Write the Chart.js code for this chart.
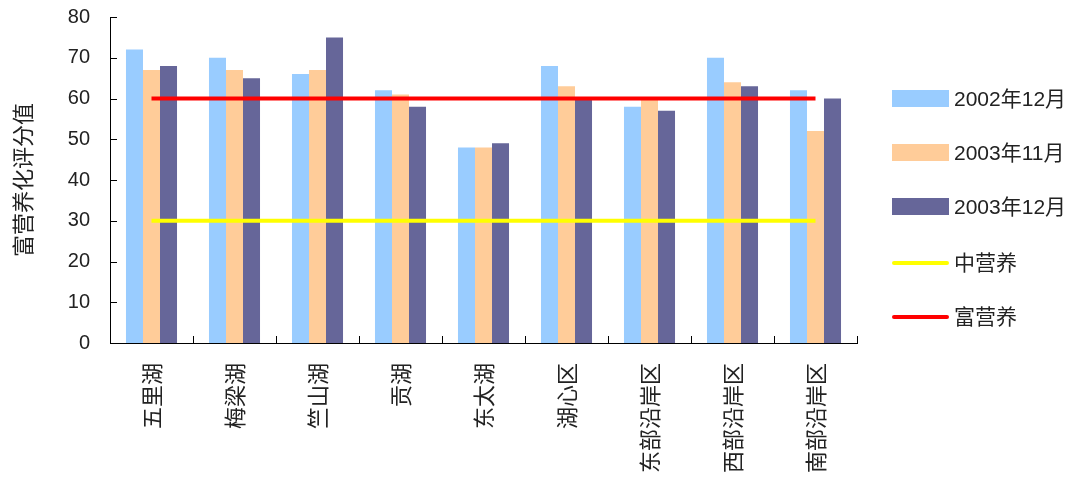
<!DOCTYPE html>
<html>
<head>
<meta charset="utf-8">
<script src="https://cdn.jsdelivr.net/npm/chart.js@4.4.1/dist/chart.umd.min.js"></script>
<style>
    body { margin: 0; background: #fff; }
    .wrap { position: relative; width: 1073px; height: 485px; }
    .legend { position: absolute; left: 892px; top: 0; font-family: "Liberation Sans", "Noto Sans CJK SC", sans-serif; font-size: 21px; color: #222; }
    .legend .item { position: absolute; left: 0; height: 24px; width: 181px; white-space: nowrap; }
    .legend .box { position: absolute; left: 0; top: 3px; width: 57px; height: 17px; }
    .legend .line { position: absolute; left: 0; top: 10px; width: 57px; height: 4px; border-radius: 2px; }
    .legend .title { position: absolute; left: 62px; top: 0; line-height: 24px; }
</style>
</head>
<body>
<div class="wrap">
    <canvas id="chart" width="1073" height="485"></canvas>
    <div class="legend" id="legend"></div>
</div>
<script>
// 데이터
const categories = ['五里湖', '梅梁湖', '竺山湖', '贡湖', '东太湖', '湖心区', '东部沿岸区', '西部沿岸区', '南部沿岸区'];
const dec2002 = [72, 70, 66, 62, 48, 68, 58, 70, 62];
const nov2003 = [67, 67, 67, 61, 48, 63, 60, 64, 52];
const dec2003 = [68, 65, 75, 58, 49, 60, 57, 63, 60];
const midLevel = [30, 30, 30, 30, 30, 30, 30, 30, 30];
const richLevel = [60, 60, 60, 60, 60, 60, 60, 60, 60];
const yTicks = [0, 10, 20, 30, 40, 50, 60, 70, 80];

const legendItems = [
    { label: '2002年12月', color: '#99CCFF', type: 'box', y: 99 },
    { label: '2003年11月', color: '#FFCC99', type: 'box', y: 153 },
    { label: '2003年12月', color: '#666699', type: 'box', y: 207 },
    { label: '中营养', color: '#FFFF00', type: 'line', y: 263 },
    { label: '富营养', color: '#FF0000', type: 'line', y: 317 },
];

// 안쪽 눈금 그리기
const innerTicks = {
    id: 'innerTicks',
    afterDraw(chart) {
        const ctx = chart.ctx;
        const x = chart.scales.x;
        const y = chart.scales.y;
        ctx.save();
        ctx.strokeStyle = '#000';
        ctx.lineWidth = 1;
        ctx.beginPath();
        yTicks.forEach(v => {
            const py = Math.round(y.getPixelForValue(v)) + 0.5;
            ctx.moveTo(x.left, py);
            ctx.lineTo(x.left + 7, py);
        });
        for (let i = 1; i <= categories.length; i++) {
            const px = Math.round(x.left + (x.right - x.left) * i / categories.length) + 0.5;
            ctx.moveTo(px, y.bottom);
            ctx.lineTo(px, y.bottom - 7);
        }
        ctx.stroke();
        ctx.restore();
    }
};

const barOpts = { order: 1, barPercentage: 1, categoryPercentage: 0.615, borderWidth: 0 };

new Chart(document.getElementById('chart'), {
    type: 'bar',
    data: {
        labels: categories,
        datasets: [
            { label: '2002年12月', data: dec2002, backgroundColor: '#99CCFF', ...barOpts },
            { label: '2003年11月', data: nov2003, backgroundColor: '#FFCC99', ...barOpts },
            { label: '2003年12月', data: dec2003, backgroundColor: '#666699', ...barOpts },
            { type: 'line', label: '中营养', data: midLevel, borderColor: '#FFFF00', borderWidth: 4, pointRadius: 0, order: 0 },
            { type: 'line', label: '富营养', data: richLevel, borderColor: '#FF0000', borderWidth: 4, pointRadius: 0, order: 0 },
        ],
    },
    options: {
        responsive: false,
        animation: false,
        layout: { padding: { top: 17, right: 216, left: 0, bottom: 0 } },
        plugins: {
            legend: { display: false },
            tooltip: { enabled: false },
        },
        scales: {
            x: {
                offset: true,
                grid: { display: false, drawTicks: false },
                border: { display: true, color: '#000', width: 1 },
                ticks: {
                    minRotation: 90,
                    maxRotation: 90,
                    padding: 20,
                    color: '#222',
                    font: { family: '"Noto Sans CJK SC", sans-serif', size: 22 },
                },
                afterFit: scale => {
                    scale.height = 142;
                    scale.paddingLeft = 0;
                    scale.paddingRight = 0;
                },
            },
            y: {
                min: 0,
                max: 80,
                grid: { display: false, drawTicks: false },
                border: { display: true, color: '#000', width: 1 },
                ticks: {
                    stepSize: 10,
                    padding: 20,
                    color: '#222',
                    font: { family: '"Liberation Sans", sans-serif', size: 20 },
                },
                title: {
                    display: true,
                    text: '富营养化评分值',
                    color: '#222',
                    padding: { top: 9, bottom: 0 },
                    font: { family: '"Noto Sans CJK SC", sans-serif', size: 22 },
                },
                afterFit: scale => {
                    scale.width = 110;
                    scale.paddingTop = 0;
                    scale.paddingBottom = 0;
                },
            },
        },
    },
    plugins: [innerTicks],
});

// 범례
const legendEl = document.getElementById('legend');
legendItems.forEach(item => {
    const row = document.createElement('div');
    row.className = 'item';
    row.style.top = (item.y - 12) + 'px';

    const mark = document.createElement('span');
    mark.className = item.type;
    mark.style.backgroundColor = item.color;

    const title = document.createElement('span');
    title.className = 'title';
    title.innerText = item.label;

    row.appendChild(mark);
    row.appendChild(title);
    legendEl.appendChild(row);
});
</script>
</body>
</html>
